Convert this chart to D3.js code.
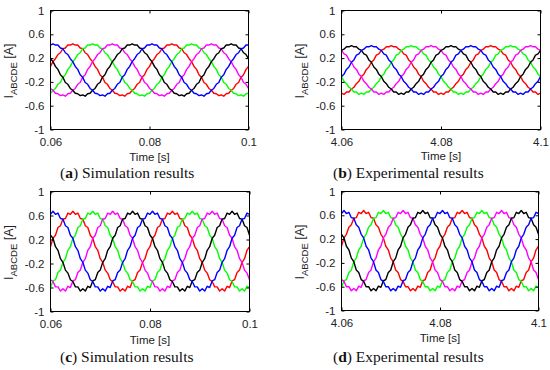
<!DOCTYPE html>
<html><head><meta charset="utf-8">
<script src="https://cdn.jsdelivr.net/npm/d3@7"></script>
<style>body{margin:0;background:#fff}svg{display:block}</style>
</head><body>
<svg id="chart" width="550" height="370"></svg>
<script>
// time samples [s]
const timesSim = [0.06,0.0605,0.061,0.0615,0.062,0.0625,0.063,0.0635,0.064,0.0645,0.065,0.0655,0.066,0.0665,0.067,0.0675,0.068,0.0685,0.069,0.0695,0.07,0.0705,0.071,0.0715,0.072,0.0725,0.073,0.0735,0.074,0.0745,0.075,0.0755,0.076,0.0765,0.077,0.0775,0.078,0.0785,0.079,0.0795,0.08,0.0805,0.081,0.0815,0.082,0.0825,0.083,0.0835,0.084,0.0845,0.085,0.0855,0.086,0.0865,0.087,0.0875,0.088,0.0885,0.089,0.0895,0.09,0.0905,0.091,0.0915,0.092,0.0925,0.093,0.0935,0.094,0.0945,0.095,0.0955,0.096,0.0965,0.097,0.0975,0.098,0.0985,0.099,0.0995,0.1];
const timesExp = [4.06,4.0605,4.061,4.0615,4.062,4.0625,4.063,4.0635,4.064,4.0645,4.065,4.0655,4.066,4.0665,4.067,4.0675,4.068,4.0685,4.069,4.0695,4.07,4.0705,4.071,4.0715,4.072,4.0725,4.073,4.0735,4.074,4.0745,4.075,4.0755,4.076,4.0765,4.077,4.0775,4.078,4.0785,4.079,4.0795,4.08,4.0805,4.081,4.0815,4.082,4.0825,4.083,4.0835,4.084,4.0845,4.085,4.0855,4.086,4.0865,4.087,4.0875,4.088,4.0885,4.089,4.0895,4.09,4.0905,4.091,4.0915,4.092,4.0925,4.093,4.0935,4.094,4.0945,4.095,4.0955,4.096,4.0965,4.097,4.0975,4.098,4.0985,4.099,4.0995,4.1];

// (a) simulation, low current
const aRed = [.06,.14,.19,.26,.29,.36,.37,.42,.42,.44,.42,.42,.37,.36,.29,.26,.19,.14,.06,.01,-.08,-.12,-.21,-.24,-.31,-.34,-.39,-.40,-.43,-.42,-.44,-.40,-.39,-.34,-.31,-.24,-.21,-.12,-.08,.01,.06,.14,.19,.26,.29,.36,.37,.42,.42,.44,.42,.42,.37,.36,.29,.26,.19,.14,.06,.01,-.08,-.12,-.21,-.24,-.31,-.34,-.39,-.40,-.43,-.42,-.44,-.40,-.39,-.34,-.31,-.24,-.21,-.12,-.08,.01,.06];
const aGreen = [-.39,-.34,-.31,-.24,-.21,-.12,-.08,.01,.06,.14,.19,.26,.29,.36,.37,.42,.42,.44,.42,.42,.37,.36,.29,.26,.19,.14,.06,.01,-.08,-.12,-.21,-.24,-.31,-.34,-.39,-.40,-.43,-.42,-.44,-.40,-.39,-.34,-.31,-.24,-.21,-.12,-.08,.01,.06,.14,.19,.26,.29,.36,.37,.42,.42,.44,.42,.42,.37,.36,.29,.26,.19,.14,.06,.01,-.08,-.12,-.21,-.24,-.31,-.34,-.39,-.40,-.43,-.42,-.44,-.40,-.39];
const aMagenta = [-.31,-.34,-.39,-.40,-.43,-.42,-.44,-.40,-.39,-.34,-.31,-.24,-.21,-.12,-.08,.01,.06,.14,.19,.26,.29,.36,.37,.42,.42,.44,.42,.42,.37,.36,.29,.26,.19,.14,.06,.01,-.08,-.12,-.21,-.24,-.31,-.34,-.39,-.40,-.43,-.42,-.44,-.40,-.39,-.34,-.31,-.24,-.21,-.12,-.08,.01,.06,.14,.19,.26,.29,.36,.37,.42,.42,.44,.42,.42,.37,.36,.29,.26,.19,.14,.06,.01,-.08,-.12,-.21,-.24,-.31];
const aBlack = [.19,.14,.06,.01,-.08,-.12,-.21,-.24,-.31,-.34,-.39,-.40,-.43,-.42,-.44,-.40,-.39,-.34,-.31,-.24,-.21,-.12,-.08,.01,.06,.14,.19,.26,.29,.36,.37,.42,.42,.44,.42,.42,.37,.36,.29,.26,.19,.14,.06,.01,-.08,-.12,-.21,-.24,-.31,-.34,-.39,-.40,-.43,-.42,-.44,-.40,-.39,-.34,-.31,-.24,-.21,-.12,-.08,.01,.06,.14,.19,.26,.29,.36,.37,.42,.42,.44,.42,.42,.37,.36,.29,.26,.19];
const aBlue = [.42,.44,.42,.42,.37,.36,.29,.26,.19,.14,.06,.01,-.08,-.12,-.21,-.24,-.31,-.34,-.39,-.40,-.43,-.42,-.44,-.40,-.39,-.34,-.31,-.24,-.21,-.12,-.08,.01,.06,.14,.19,.26,.29,.36,.37,.42,.42,.44,.42,.42,.37,.36,.29,.26,.19,.14,.06,.01,-.08,-.12,-.21,-.24,-.31,-.34,-.39,-.40,-.43,-.42,-.44,-.40,-.39,-.34,-.31,-.24,-.21,-.12,-.08,.01,.06,.14,.19,.26,.29,.36,.37,.42,.42];

// (b) experiment, low current
const bRed = [-.39,-.41,-.37,-.37,-.32,-.29,-.23,-.19,-.11,-.07,.01,.05,.13,.17,.25,.27,.33,.35,.39,.39,.41,.39,.39,.35,.33,.27,.25,.17,.13,.05,.01,-.07,-.11,-.19,-.23,-.29,-.32,-.37,-.37,-.41,-.39,-.41,-.37,-.37,-.32,-.29,-.23,-.19,-.11,-.07,.01,.05,.13,.17,.25,.27,.33,.35,.39,.39,.41,.39,.39,.35,.33,.27,.25,.17,.13,.05,.01,-.07,-.11,-.19,-.23,-.29,-.32,-.37,-.37,-.41,-.39];
const bGreen = [-.11,-.19,-.23,-.29,-.32,-.37,-.37,-.41,-.39,-.41,-.37,-.37,-.32,-.29,-.23,-.19,-.11,-.07,.01,.05,.13,.17,.25,.27,.33,.35,.39,.39,.41,.39,.39,.35,.33,.27,.25,.17,.13,.05,.01,-.07,-.11,-.19,-.23,-.29,-.32,-.37,-.37,-.41,-.39,-.41,-.37,-.37,-.32,-.29,-.23,-.19,-.11,-.07,.01,.05,.13,.17,.25,.27,.33,.35,.39,.39,.41,.39,.39,.35,.33,.27,.25,.17,.13,.05,.01,-.07,-.11];
const bMagenta = [.33,.27,.25,.17,.13,.05,.01,-.07,-.11,-.19,-.23,-.29,-.32,-.37,-.37,-.41,-.39,-.41,-.37,-.37,-.32,-.29,-.23,-.19,-.11,-.07,.01,.05,.13,.17,.25,.27,.33,.35,.39,.39,.41,.39,.39,.35,.33,.27,.25,.17,.13,.05,.01,-.07,-.11,-.19,-.23,-.29,-.32,-.37,-.37,-.41,-.39,-.41,-.37,-.37,-.32,-.29,-.23,-.19,-.11,-.07,.01,.05,.13,.17,.25,.27,.33,.35,.39,.39,.41,.39,.39,.35,.33];
const bBlack = [.33,.35,.39,.39,.41,.39,.39,.35,.33,.27,.25,.17,.13,.05,.01,-.07,-.11,-.19,-.23,-.29,-.32,-.37,-.37,-.41,-.39,-.41,-.37,-.37,-.32,-.29,-.23,-.19,-.11,-.07,.01,.05,.13,.17,.25,.27,.33,.35,.39,.39,.41,.39,.39,.35,.33,.27,.25,.17,.13,.05,.01,-.07,-.11,-.19,-.23,-.29,-.32,-.37,-.37,-.41,-.39,-.41,-.37,-.37,-.32,-.29,-.23,-.19,-.11,-.07,.01,.05,.13,.17,.25,.27,.33];
const bBlue = [-.11,-.07,.01,.05,.13,.17,.25,.27,.33,.35,.39,.39,.41,.39,.39,.35,.33,.27,.25,.17,.13,.05,.01,-.07,-.11,-.19,-.23,-.29,-.32,-.37,-.37,-.41,-.39,-.41,-.37,-.37,-.32,-.29,-.23,-.19,-.11,-.07,.01,.05,.13,.17,.25,.27,.33,.35,.39,.39,.41,.39,.39,.35,.33,.27,.25,.17,.13,.05,.01,-.07,-.11,-.19,-.23,-.29,-.32,-.37,-.37,-.41,-.39,-.41,-.37,-.37,-.32,-.29,-.23,-.19,-.11];

// (c) simulation, high current
const cRed = [.08,.22,.27,.40,.43,.54,.55,.64,.62,.67,.62,.64,.55,.54,.43,.40,.27,.22,.08,.02,-.12,-.18,-.31,-.36,-.47,-.50,-.59,-.59,-.66,-.62,-.66,-.58,-.60,-.49,-.47,-.35,-.31,-.18,-.12,.02,.08,.22,.27,.40,.43,.54,.55,.64,.62,.67,.62,.64,.55,.54,.43,.40,.27,.22,.08,.02,-.12,-.18,-.31,-.36,-.47,-.50,-.59,-.59,-.66,-.62,-.66,-.58,-.60,-.49,-.47,-.35,-.31,-.18,-.12,.02,.08];
const cGreen = [-.60,-.49,-.47,-.35,-.31,-.18,-.12,.02,.08,.22,.27,.40,.43,.54,.55,.64,.62,.67,.62,.64,.55,.54,.43,.40,.27,.22,.08,.02,-.12,-.18,-.31,-.36,-.47,-.50,-.59,-.59,-.66,-.62,-.66,-.58,-.60,-.49,-.47,-.35,-.31,-.18,-.12,.02,.08,.22,.27,.40,.43,.54,.55,.64,.62,.67,.62,.64,.55,.54,.43,.40,.27,.22,.08,.02,-.12,-.18,-.31,-.36,-.47,-.50,-.59,-.59,-.66,-.62,-.66,-.58,-.60];
const cMagenta = [-.47,-.50,-.59,-.59,-.66,-.62,-.66,-.58,-.60,-.49,-.47,-.35,-.31,-.18,-.12,.02,.08,.22,.27,.40,.43,.54,.55,.64,.62,.67,.62,.64,.55,.54,.43,.40,.27,.22,.08,.02,-.12,-.18,-.31,-.36,-.47,-.50,-.59,-.59,-.66,-.62,-.66,-.58,-.60,-.49,-.47,-.35,-.31,-.18,-.12,.02,.08,.22,.27,.40,.43,.54,.55,.64,.62,.67,.62,.64,.55,.54,.43,.40,.27,.22,.08,.02,-.12,-.18,-.31,-.36,-.47];
const cBlack = [.27,.22,.08,.02,-.12,-.18,-.31,-.36,-.47,-.50,-.59,-.59,-.66,-.62,-.66,-.58,-.60,-.49,-.47,-.35,-.31,-.18,-.12,.02,.08,.22,.27,.40,.43,.54,.55,.64,.62,.67,.62,.64,.55,.54,.43,.40,.27,.22,.08,.02,-.12,-.18,-.31,-.36,-.47,-.50,-.59,-.59,-.66,-.62,-.66,-.58,-.60,-.49,-.47,-.35,-.31,-.18,-.12,.02,.08,.22,.27,.40,.43,.54,.55,.64,.62,.67,.62,.64,.55,.54,.43,.40,.27];
const cBlue = [.62,.67,.62,.64,.55,.54,.43,.40,.27,.22,.08,.02,-.12,-.18,-.31,-.36,-.47,-.50,-.59,-.59,-.66,-.62,-.66,-.58,-.60,-.49,-.47,-.35,-.31,-.18,-.12,.02,.08,.22,.27,.40,.43,.54,.55,.64,.62,.67,.62,.64,.55,.54,.43,.40,.27,.22,.08,.02,-.12,-.18,-.31,-.36,-.47,-.50,-.59,-.59,-.66,-.62,-.66,-.58,-.60,-.49,-.47,-.35,-.31,-.18,-.12,.02,.08,.22,.27,.40,.43,.54,.55,.64,.62];

// (d) experiment, high current
const dRed = [.08,.22,.28,.40,.44,.55,.56,.65,.63,.68,.63,.65,.56,.55,.44,.40,.28,.22,.08,.02,-.12,-.18,-.32,-.36,-.48,-.51,-.60,-.60,-.67,-.63,-.67,-.59,-.61,-.50,-.48,-.36,-.32,-.18,-.12,.02,.08,.22,.28,.40,.44,.55,.56,.65,.63,.68,.63,.65,.56,.55,.44,.40,.28,.22,.08,.02,-.12,-.18,-.32,-.36,-.48,-.51,-.60,-.60,-.67,-.63,-.67,-.59,-.61,-.50,-.48,-.36,-.32,-.18,-.12,.02,.08];
const dGreen = [-.61,-.50,-.48,-.36,-.32,-.18,-.12,.02,.08,.22,.28,.40,.44,.55,.56,.65,.63,.68,.63,.65,.56,.55,.44,.40,.28,.22,.08,.02,-.12,-.18,-.32,-.36,-.48,-.51,-.60,-.60,-.67,-.63,-.67,-.59,-.61,-.50,-.48,-.36,-.32,-.18,-.12,.02,.08,.22,.28,.40,.44,.55,.56,.65,.63,.68,.63,.65,.56,.55,.44,.40,.28,.22,.08,.02,-.12,-.18,-.32,-.36,-.48,-.51,-.60,-.60,-.67,-.63,-.67,-.59,-.61];
const dMagenta = [-.48,-.51,-.60,-.60,-.67,-.63,-.67,-.59,-.61,-.50,-.48,-.36,-.32,-.18,-.12,.02,.08,.22,.28,.40,.44,.55,.56,.65,.63,.68,.63,.65,.56,.55,.44,.40,.28,.22,.08,.02,-.12,-.18,-.32,-.36,-.48,-.51,-.60,-.60,-.67,-.63,-.67,-.59,-.61,-.50,-.48,-.36,-.32,-.18,-.12,.02,.08,.22,.28,.40,.44,.55,.56,.65,.63,.68,.63,.65,.56,.55,.44,.40,.28,.22,.08,.02,-.12,-.18,-.32,-.36,-.48];
const dBlack = [.28,.22,.08,.02,-.12,-.18,-.32,-.36,-.48,-.51,-.60,-.60,-.67,-.63,-.67,-.59,-.61,-.50,-.48,-.36,-.32,-.18,-.12,.02,.08,.22,.28,.40,.44,.55,.56,.65,.63,.68,.63,.65,.56,.55,.44,.40,.28,.22,.08,.02,-.12,-.18,-.32,-.36,-.48,-.51,-.60,-.60,-.67,-.63,-.67,-.59,-.61,-.50,-.48,-.36,-.32,-.18,-.12,.02,.08,.22,.28,.40,.44,.55,.56,.65,.63,.68,.63,.65,.56,.55,.44,.40,.28];
const dBlue = [.63,.68,.63,.65,.56,.55,.44,.40,.28,.22,.08,.02,-.12,-.18,-.32,-.36,-.48,-.51,-.60,-.60,-.67,-.63,-.67,-.59,-.61,-.50,-.48,-.36,-.32,-.18,-.12,.02,.08,.22,.28,.40,.44,.55,.56,.65,.63,.68,.63,.65,.56,.55,.44,.40,.28,.22,.08,.02,-.12,-.18,-.32,-.36,-.48,-.51,-.60,-.60,-.67,-.63,-.67,-.59,-.61,-.50,-.48,-.36,-.32,-.18,-.12,.02,.08,.22,.28,.40,.44,.55,.56,.65,.63];

const yTicks = [-1, -0.6, -0.2, 0.2, 0.6, 1];
const yTickLabels = ["-1", "-0.6", "-0.2", "0.2", "0.6", "1"];
const xTicksSim = [0.06, 0.08, 0.1];
const xTickLabelsSim = ["0.06", "0.08", "0.1"];
const xTicksExp = [4.06, 4.08, 4.1];
const xTickLabelsExp = ["4.06", "4.08", "4.1"];
const seriesColors = ["#ff0000", "#00ff00", "#ff00ff", "#000000", "#0000ff"];
const panelLetters = ["a", "b", "c", "d"];
const panelCaptions = [" Simulation results", " Experimental results", " Simulation results", " Experimental results"];

const panels = [
  {times: timesSim, xt: xTicksSim, xl: xTickLabelsSim, series: [aRed, aGreen, aMagenta, aBlack, aBlue],
   box: {l: 50.5, r: 248.5, t: 10.5, b: 129.5}, ylx: 13, timeY: 161, capX: 60, capY: 178},
  {times: timesExp, xt: xTicksExp, xl: xTickLabelsExp, series: [bRed, bGreen, bMagenta, bBlack, bBlue],
   box: {l: 341.5, r: 540.5, t: 10.5, b: 129.5}, ylx: 304, timeY: 160, capX: 333, capY: 178},
  {times: timesSim, xt: xTicksSim, xl: xTickLabelsSim, series: [cRed, cGreen, cMagenta, cBlack, cBlue],
   box: {l: 50.5, r: 249.5, t: 191.5, b: 311.5}, ylx: 13, timeY: 344, capX: 60, capY: 362},
  {times: timesExp, xt: xTicksExp, xl: xTickLabelsExp, series: [dRed, dGreen, dMagenta, dBlack, dBlue],
   box: {l: 341.5, r: 538.5, t: 191.5, b: 310.5}, ylx: 304, timeY: 342, capX: 333, capY: 362}
];

const svg = d3.select("#chart");
const sans = "'Liberation Sans', Arial, Helvetica, sans-serif";
const serif = "'Liberation Serif', 'Times New Roman', serif";

panels.forEach((p, pi) => {
  const {l, r, t, b} = p.box;
  const x = d3.scaleLinear().domain([p.xt[0], p.xt[p.xt.length - 1]]).range([l, r]);
  const y = d3.scaleLinear().domain([-1, 1]).range([b, t]);
  const g = svg.append("g");
  const clipId = "clip" + pi;
  svg.append("clipPath").attr("id", clipId).append("rect")
    .attr("x", l).attr("y", t).attr("width", r - l).attr("height", b - t);

  const line = d3.line()
    .defined((d, i) => i < p.times.length)
    .x((d, i) => x(p.times[i]))
    .y(d => y(d));

  const lg = g.append("g").attr("clip-path", `url(#${clipId})`);
  p.series.forEach((s, si) => {
    lg.append("path").attr("d", line(s)).attr("fill", "none")
      .attr("stroke", seriesColors[si]).attr("stroke-width", 1.4)
      .attr("stroke-linejoin", "round");
  });

  const styleAxis = sel => {
    sel.select(".domain").remove();
    sel.selectAll(".tick line").attr("stroke", "#000");
    sel.selectAll("text").attr("font-family", sans).attr("font-size", 11.5).attr("fill", "#222");
  };
  g.append("g").attr("transform", `translate(${l},0)`)
    .call(d3.axisLeft(y).tickValues(yTicks).tickFormat((d, i) => yTickLabels[i]).tickSizeInner(-3).tickSizeOuter(0).tickPadding(6))
    .call(styleAxis);
  g.append("g").attr("transform", `translate(${r},0)`)
    .call(d3.axisRight(y).tickValues(yTicks).tickFormat("").tickSizeInner(-3).tickSizeOuter(0))
    .call(styleAxis);
  g.append("g").attr("transform", `translate(0,${b})`)
    .call(d3.axisBottom(x).tickValues(p.xt).tickFormat((d, i) => p.xl[i]).tickSizeInner(-3).tickSizeOuter(0).tickPadding(8))
    .call(styleAxis);
  g.append("g").attr("transform", `translate(0,${t})`)
    .call(d3.axisTop(x).tickValues(p.xt).tickFormat("").tickSizeInner(-3).tickSizeOuter(0))
    .call(styleAxis);

  g.append("rect").attr("x", l).attr("y", t).attr("width", r - l).attr("height", b - t)
    .attr("fill", "none").attr("stroke", "#000").attr("stroke-width", 1);

  // y label
  const yl = g.append("text")
    .attr("transform", `translate(${p.ylx},${(t + b) / 2 + 1}) rotate(-90)`)
    .attr("text-anchor", "middle").attr("font-family", sans).attr("font-size", 12.5).attr("fill", "#222");
  yl.append("tspan").text("I");
  yl.append("tspan").attr("dy", 4).attr("font-size", 9.5).text("ABCDE");
  yl.append("tspan").attr("dy", -4).text(" [A]");

  // x label
  g.append("text").attr("x", (l + r) / 2).attr("y", p.timeY).attr("text-anchor", "middle")
    .attr("font-family", sans).attr("font-size", 11.5).attr("fill", "#222").text("Time [s]");

  // caption
  const cap = g.append("text").attr("x", p.capX).attr("y", p.capY)
    .attr("font-family", serif).attr("font-size", 15.5).attr("fill", "#111");
  cap.append("tspan").text("(");
  cap.append("tspan").attr("font-weight", "bold").text(panelLetters[pi]);
  cap.append("tspan").text(")" + panelCaptions[pi]);
});
</script>
</body></html>
